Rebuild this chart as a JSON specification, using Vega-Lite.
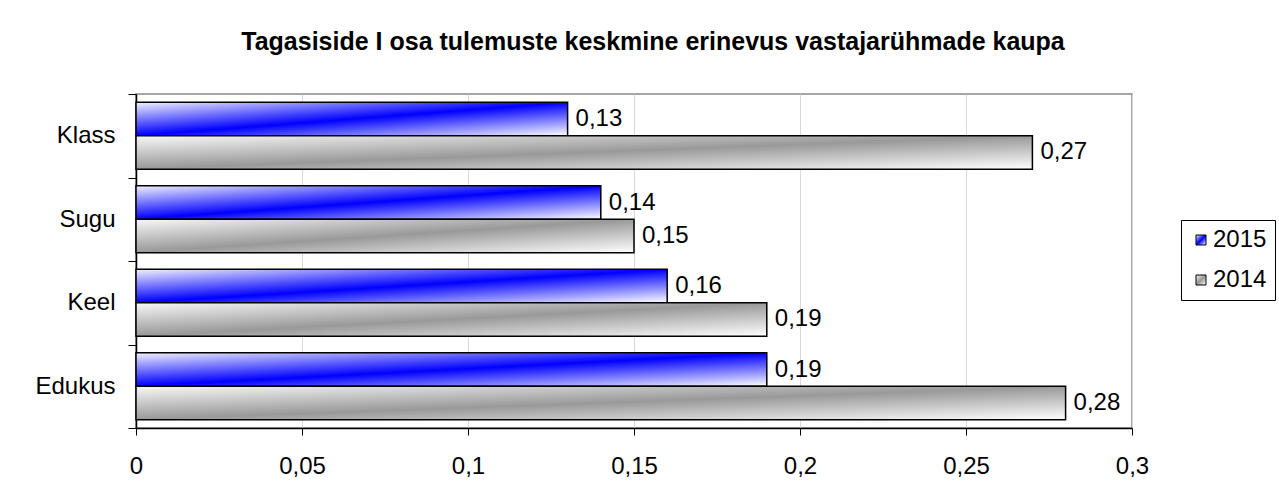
{
  "$schema": "https://vega.github.io/schema/vega-lite/v6.json",
  "autosize": "none",
  "padding": {"left": 136, "top": 94, "right": 147, "bottom": 74},
  "width": 996,
  "height": 334,
  "background": "white",
  "title": {
    "text": "Tagasiside I osa tulemuste keskmine erinevus vastajarühmade kaupa",
    "font": "Liberation Sans",
    "fontSize": 25,
    "fontWeight": "bold",
    "color": "black",
    "anchor": "middle",
    "dx": 19,
    "offset": 27
  },
  "data": {
    "values": [
      {"cat": "Klass", "year": "2015", "value": 0.13},
      {"cat": "Klass", "year": "2014", "value": 0.27},
      {"cat": "Sugu", "year": "2015", "value": 0.14},
      {"cat": "Sugu", "year": "2014", "value": 0.15},
      {"cat": "Keel", "year": "2015", "value": 0.16},
      {"cat": "Keel", "year": "2014", "value": 0.19},
      {"cat": "Edukus", "year": "2015", "value": 0.19},
      {"cat": "Edukus", "year": "2014", "value": 0.28}
    ]
  },
  "encoding": {
    "y": {
      "field": "cat",
      "type": "nominal",
      "sort": ["Klass", "Sugu", "Keel", "Edukus"],
      "scale": {"paddingInner": 0, "paddingOuter": 0},
      "title": null,
      "axis": {
        "labelFont": "Liberation Sans",
        "labelFontSize": 24,
        "labelColor": "black",
        "tickBand": "extent",
        "tickSize": 8,
        "tickColor": "black",
        "domainColor": "black",
        "domainWidth": 1.5,
        "labelPadding": 13,
        "grid": false
      }
    },
    "yOffset": {
      "field": "year",
      "type": "nominal",
      "sort": ["2015", "2014"],
      "scale": {"paddingInner": 0, "paddingOuter": 0.25}
    },
    "x": {
      "field": "value",
      "type": "quantitative",
      "scale": {"domain": [0, 0.3], "nice": false},
      "title": null,
      "axis": {
        "values": [0, 0.05, 0.1, 0.15, 0.2, 0.25, 0.3],
        "format": ".2~f",
        "labelFont": "Liberation Sans",
        "labelFontSize": 24,
        "labelColor": "black",
        "tickSize": 7,
        "tickColor": "black",
        "domainColor": "black",
        "domainWidth": 1.5,
        "labelPadding": 19,
        "grid": true,
        "gridColor": "#d9d9d9",
        "labelFlush": false
      }
    }
  },
  "layer": [
    {
      "mark": {"type": "bar", "stroke": "black", "strokeWidth": 1.5},
      "encoding": {
        "fill": {
          "field": "year",
          "type": "nominal",
          "sort": ["2015", "2014"],
          "scale": {
            "type": "ordinal",
            "domain": ["2015", "2014"],
            "range": [
              {"expr": "{gradient: 'linear', x1: 0, y1: 0, x2: 1, y2: 1, stops: [{offset: 0, color: '#f2f2ff'}, {offset: 0.5, color: '#0000ff'}, {offset: 1, color: '#ffffff'}]}"},
              {"expr": "{gradient: 'linear', x1: 0, y1: 0, x2: 1, y2: 1, stops: [{offset: 0, color: '#f8f8f8'}, {offset: 0.5, color: '#999999'}, {offset: 1, color: '#ffffff'}]}"}
            ]
          },
          "legend": {
            "orient": "none",
            "legendX": 1045,
            "legendY": 126,
            "title": null,
            "strokeColor": "black",
            "fillColor": "white",
            "padding": 8,
            "labelFont": "Liberation Sans",
            "labelFontSize": 24,
            "labelColor": "black",
            "symbolType": "square",
            "symbolSize": 100,
            "symbolStrokeColor": "black",
            "symbolStrokeWidth": 1,
            "symbolOpacity": 1,
            "rowPadding": 16,
            "labelOffset": 0
          }
        }
      }
    },
    {
      "mark": {"type": "text", "align": "left", "baseline": "middle", "dx": 8, "font": "Liberation Sans", "fontSize": 24, "color": "black"},
      "encoding": {
        "text": {"field": "value", "type": "quantitative", "format": ".2f"}
      }
    }
  ],
  "config": {
    "locale": {
      "number": {"decimal": ",", "thousands": " ", "grouping": [3], "currency": ["", " €"]}
    },
    "view": {"stroke": "#888888", "strokeWidth": 1.5}
  }
}
